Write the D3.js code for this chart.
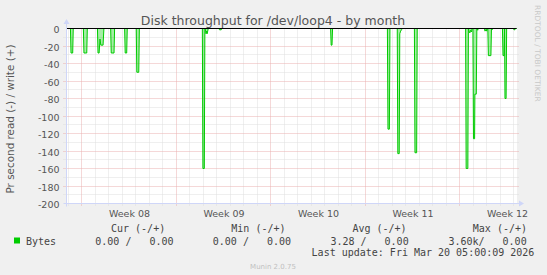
<!DOCTYPE html>
<html><head><meta charset="utf-8">
<script src="https://cdn.jsdelivr.net/npm/d3@7"></script>
<style>
html,body{margin:0;padding:0;background:#F0F0F0;}
svg{display:block;}
text{font-family:"DejaVu Sans",sans-serif;}
.mono{font-family:"DejaVu Sans Mono",monospace;white-space:pre;}
</style></head>
<body>
<svg id="chart" width="547" height="275"></svg>
<script>
// ---- data ----
const title = "Disk throughput for /dev/loop4 - by month";
const yTitle = "Pr second read (-) / write (+)";
const timeStart = "2026-02-14 21:00";
const timeEnd = "2026-03-20 05:00";
const yTicks = [0, -20, -40, -60, -80, -100, -120, -140, -160, -180, -200];
const weekLabels = ["Week 08", "Week 09", "Week 10", "Week 11", "Week 12"];
const weekMid = ["2026-02-19 12:00", "2026-02-26 12:00", "2026-03-05 12:00", "2026-03-12 12:00", "2026-03-19 12:00"];

const readTimes = [
 "2026-02-14 21:00",
 "2026-02-15 04:00","2026-02-15 05:00","2026-02-15 08:00","2026-02-15 09:00",
 "2026-02-16 03:00","2026-02-16 04:00","2026-02-16 09:00","2026-02-16 10:00",
 "2026-02-17 04:00","2026-02-17 05:00","2026-02-17 07:00","2026-02-17 08:30","2026-02-17 10:00","2026-02-17 14:00","2026-02-17 15:30",
 "2026-02-18 03:30","2026-02-18 04:30","2026-02-18 09:30","2026-02-18 10:30",
 "2026-02-19 04:20","2026-02-19 05:20","2026-02-19 08:00","2026-02-19 09:00",
 "2026-02-20 01:00","2026-02-20 02:00","2026-02-20 05:30","2026-02-20 06:30",
 "2026-02-24 22:30","2026-02-24 23:30","2026-02-25 02:00","2026-02-25 03:00","2026-02-25 04:00","2026-02-25 05:00","2026-02-25 06:00","2026-02-25 07:00","2026-02-25 09:00",
 "2026-02-26 04:00","2026-02-26 05:00","2026-02-26 08:00","2026-02-26 09:00",
 "2026-03-06 10:30","2026-03-06 11:30","2026-03-06 13:00","2026-03-06 14:00",
 "2026-03-10 15:30","2026-03-10 16:30","2026-03-10 19:00","2026-03-10 20:00",
 "2026-03-11 09:00","2026-03-11 10:00","2026-03-11 12:30","2026-03-11 13:30","2026-03-11 15:00","2026-03-11 17:00","2026-03-11 18:00",
 "2026-03-12 15:30","2026-03-12 16:30","2026-03-12 19:30","2026-03-12 20:30",
 "2026-03-16 10:30","2026-03-16 11:30","2026-03-16 14:30","2026-03-16 15:30","2026-03-16 16:30","2026-03-16 18:00","2026-03-16 19:30","2026-03-16 21:00","2026-03-16 22:00",
 "2026-03-16 23:30","2026-03-17 00:30","2026-03-17 02:30","2026-03-17 03:00","2026-03-17 05:30","2026-03-17 06:30","2026-03-17 08:00","2026-03-17 09:00",
 "2026-03-17 20:00","2026-03-17 21:00","2026-03-17 23:00","2026-03-18 00:00","2026-03-18 01:00",
 "2026-03-18 02:00","2026-03-18 03:00","2026-03-18 07:30","2026-03-18 08:30","2026-03-18 10:00","2026-03-18 12:00",
 "2026-03-19 04:00","2026-03-19 05:00","2026-03-19 07:00","2026-03-19 07:45","2026-03-19 08:30","2026-03-19 10:30","2026-03-19 11:30",
 "2026-03-19 23:30","2026-03-20 00:30","2026-03-20 02:00","2026-03-20 03:00",
 "2026-03-20 05:00"
];
const readValues = [
 0,
 0,-28,-28,0,
 0,-28,-28,0,
 0,-28,-28,-12,-19,-19,0,
 0,-28,-28,0,
 0,-28,-28,0,
 0,-50,-50,0,
 0,-160,-160,0,-1,-6,-3,-6,0,
 0,-1.5,-1.5,0,
 0,-19,-19,0,
 0,-115,-115,0,
 0,-143,-143,-6,-3,-1,0,
 0,-142,-142,0,
 0,-160,-160,0,-3,-5,-2,-4,0,
 0,-126,-126,-75,-75,0,-2,0,
 0,-3,-1,-3,0,
 0,-31,-31,0,-1,0,
 0,-31,-31,0,-80,-80,0,
 0,-1.5,-1.5,0,
 0
];
const writeTimes = ["2026-02-14 21:00", "2026-03-20 05:00"];
const writeValues = [0, 0];

const seriesName = "Bytes";
const seriesColor = "#00CC00";
const statHeaders = ["Cur (-/+)", "Min (-/+)", "Avg (-/+)", "Max (-/+)"];
const statValues = ["0.00 /   0.00", "0.00 /   0.00", "3.28 /   0.00", "3.60k/   0.00"];
const lastUpdate = "Last update: Fri Mar 20 05:00:09 2026";
const footer = "Munin 2.0.75";
const sideText = "RRDTOOL / TOBI OETIKER";

// ---- drawing ----
const parse = d3.timeParse("%Y-%m-%d %H:%M");
const svg = d3.select("#chart");
const L = 66.5, R = 516.5, T = 28.5, B = 203.5;
const x = d3.scaleTime().domain([parse(timeStart), parse(timeEnd)]).range([L, R]);
const y = d3.scaleLinear().domain([-200, 0]).range([B, T]);
const snap = v => Math.round(v - 0.5) + 0.5;

svg.append("rect").attr("x", 0).attr("y", 0).attr("width", 547).attr("height", 275).attr("fill", "#F0F0F0");
svg.append("rect").attr("x", 66).attr("y", 28).attr("width", 451).attr("height", 176).attr("fill", "#FFFFFF");

const minorCol = "#dedede", majorCol = "#ebb0b0";
const grid = svg.append("g");
const days = d3.timeDay.range(x.domain()[0], x.domain()[1]).filter(d => d.getDay() !== 1);
grid.selectAll(".vmin").data(days).join("line")
  .attr("x1", d => snap(x(d))).attr("x2", d => snap(x(d)))
  .attr("y1", T).attr("y2", B + 3)
  .attr("stroke", minorCol).attr("stroke-dasharray", "1,1");
const hMinor = d3.range(-190, 0, 20);
grid.selectAll(".hmin").data(hMinor).join("line")
  .attr("x1", L - 3).attr("x2", R + 2)
  .attr("y1", d => snap(y(d))).attr("y2", d => snap(y(d)))
  .attr("stroke", minorCol).attr("stroke-dasharray", "1,1");
const weeks = d3.timeMonday.range(x.domain()[0], x.domain()[1]);
grid.selectAll(".vmaj").data(weeks).join("line")
  .attr("x1", d => snap(x(d))).attr("x2", d => snap(x(d)))
  .attr("y1", T).attr("y2", B + 3)
  .attr("stroke", majorCol).attr("stroke-dasharray", "1,1");
grid.selectAll(".hmaj").data(yTicks.filter(v => v !== 0 && v !== -200)).join("line")
  .attr("x1", L - 3).attr("x2", R + 2)
  .attr("y1", d => snap(y(d))).attr("y2", d => snap(y(d)))
  .attr("stroke", majorCol).attr("stroke-dasharray", "1,1");

const yAxis = d3.axisLeft(y).tickValues(yTicks).tickSize(0).tickPadding(7).tickFormat(d => String(d));
const ya = svg.append("g").attr("transform", `translate(${L},0)`).call(yAxis);
ya.select(".domain").remove();
ya.selectAll("text").attr("fill", "#555").attr("font-size", "9.5px")
  .attr("font-family", "DejaVu Sans").attr("dy", "0.45em");

const xAxis = d3.axisBottom(x).tickValues(weekMid.map(parse)).tickSize(0).tickPadding(5)
  .tickFormat((d, i) => weekLabels[i]);
const xa = svg.append("g").attr("transform", `translate(0,${B})`).call(xAxis);
xa.select(".domain").remove();
xa.selectAll("text").attr("fill", "#555").attr("font-size", "9.5px")
  .attr("font-family", "DejaVu Sans").attr("dy", "0.9em");

// data
const readData = readTimes.map((t, i) => ({t: parse(t), v: readValues[i]}));
const writeData = writeTimes.map((t, i) => ({t: parse(t), v: writeValues[i]}));
const line = d3.line().x(d => x(d.t)).y(d => y(d.v));
const area = d3.area().x(d => x(d.t)).y0(y(0)).y1(d => y(d.v));
svg.append("path").datum(readData).attr("d", area).attr("fill", seriesColor).attr("fill-opacity", 0.35);
svg.append("path").datum(writeData).attr("d", line).attr("fill", "none").attr("stroke", seriesColor).attr("stroke-width", 1);
svg.append("path").datum(readData).attr("d", line).attr("fill", "none").attr("stroke", seriesColor).attr("stroke-width", 1);

svg.append("line").attr("x1", L - 0.5).attr("x2", R).attr("y1", y(0)).attr("y2", y(0)).attr("stroke", "#000").attr("stroke-width", 1);

const axisCol = "#CFD6F8";
svg.append("line").attr("x1", L).attr("x2", L).attr("y1", B + 3).attr("y2", 22).attr("stroke", axisCol);
svg.append("path").attr("d", `M${L - 3},${24} L${L},${19} L${L + 3},${24} Z`).attr("fill", axisCol);
svg.append("line").attr("x1", L - 3).attr("x2", 521).attr("y1", B).attr("y2", B).attr("stroke", axisCol);
svg.append("path").attr("d", `M${519},${B - 3} L${524},${B} L${519},${B + 3} Z`).attr("fill", axisCol);

svg.append("text").attr("x", 273).attr("y", 25).attr("text-anchor", "middle")
  .attr("font-size", "12.5px").attr("fill", "#555").text(title);
svg.append("text").attr("transform", "translate(14,119) rotate(-90)").attr("text-anchor", "middle")
  .attr("font-size", "10.4px").attr("fill", "#555").text(yTitle);
svg.append("text").attr("transform", "translate(535,5) rotate(90)").attr("text-anchor", "start")
  .attr("font-size", "7.5px").attr("fill", "#c8c8c8").text(sideText);

svg.append("rect").attr("x", 14).attr("y", 237.5).attr("width", 6).attr("height", 6).attr("fill", seriesColor);
const lg = svg.append("g").attr("fill", "#444").attr("font-size", "10px");
lg.append("text").attr("class", "mono").attr("x", 26).attr("y", 244.5).text(seriesName);
const headX = [111, 231.3, 352.4, 472.8];
const valX = [95.3, 212.8, 330.4, 448.4];
lg.selectAll(".hd").data(statHeaders).join("text").attr("class", "mono")
  .attr("x", (d, i) => headX[i]).attr("y", 232).text(d => d);
lg.selectAll(".vl").data(statValues).join("text").attr("class", "mono")
  .attr("x", (d, i) => valX[i]).attr("y", 244.5).text(d => d);
lg.append("text").attr("class", "mono").attr("x", 311.6).attr("y", 256.3).text(lastUpdate);
svg.append("text").attr("x", 273).attr("y", 268.5).attr("text-anchor", "middle")
  .attr("font-size", "7px").attr("fill", "#c0c0c0").text(footer);
</script>
</body></html>
